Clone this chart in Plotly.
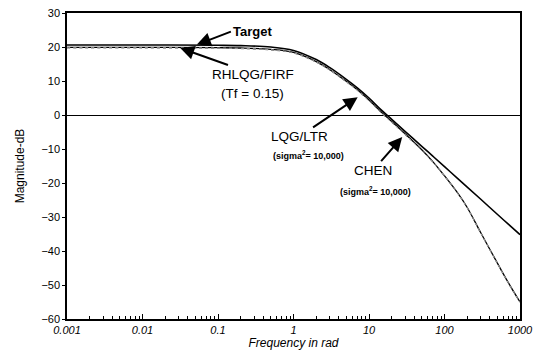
import plotly.graph_objects as go

# Frequencies (rad) at which the curves were read
freq = [0.001, 0.01, 0.1, 0.2, 0.5, 1, 2, 3, 5, 7, 10, 15, 20, 30, 50, 70, 100, 150, 200, 300, 500, 700, 1000]

# Magnitude in dB
target = [20.6, 20.6, 20.5, 20.4, 20.0, 19.0, 16.3, 14.0, 10.5, 8.0, 5.0, 1.2, -1.3, -4.8, -9.2, -12.1, -15.2, -18.7, -21.2, -24.7, -29.2, -32.1, -35.2]
rhlqg = [19.9, 19.9, 19.8, 19.7, 19.3, 18.4, 15.7, 13.4, 9.9, 7.4, 4.4, 0.6, -1.9, -5.5, -10.2, -13.7, -17.9, -23.0, -27.2, -34.5, -43.5, -49.3, -55.0]
lqg_ltr = [19.7, 19.7, 19.6, 19.5, 19.1, 18.2, 15.5, 13.2, 9.7, 7.2, 4.1, 0.3, -2.2, -5.8, -10.5, -13.9, -18.0, -23.1, -27.3, -34.6, -43.6, -49.4, -55.1]
chen = [19.8, 19.8, 19.7, 19.6, 19.2, 18.3, 15.6, 13.3, 9.8, 7.3, 4.2, 0.4, -2.1, -5.7, -10.4, -13.8, -18.0, -23.1, -27.3, -34.6, -43.6, -49.4, -55.1]

xtick_vals = [0.001, 0.01, 0.1, 1, 10, 100, 1000]
xtick_text = ["0.001", "0.01", "0.1", "1", "10", "100", "1000"]
ytick_vals = [30, 20, 10, 0, -10, -20, -30, -40, -50, -60]

FONT = "Liberation Sans, Arial, sans-serif"

fig = go.Figure()
fig.add_trace(go.Scatter(x=freq, y=rhlqg, mode="lines", name="RHLQG/FIRF",
                         line=dict(color="black", width=1.3, shape="spline")))
fig.add_trace(go.Scatter(x=freq, y=lqg_ltr, mode="lines", name="LQG/LTR",
                         line=dict(color="#777777", width=1, dash="dot", shape="spline")))
fig.add_trace(go.Scatter(x=freq, y=chen, mode="lines", name="CHEN",
                         line=dict(color="#999999", width=1, dash="dot", shape="spline")))
fig.add_trace(go.Scatter(x=freq, y=target, mode="lines", name="Target",
                         line=dict(color="black", width=1.6, shape="spline")))

ann_font = dict(family=FONT, size=13.5, color="black")
bold_font = dict(family=FONT, size=13, color="black", weight="bold")
small_font = dict(family=FONT, size=9, color="black", weight="bold")
arrow = dict(showarrow=True, arrowhead=2, arrowsize=1.4, arrowwidth=2, arrowcolor="black")

annotations = [
    dict(x=-1.28, y=20.7, xref="x", yref="y", text="Target",
         ax=34, ay=-13, xanchor="left", font=bold_font, **arrow),
    dict(x=-1.5, y=19.7, xref="x", yref="y", text="RHLQG/FIRF",
         ax=73, ay=26, font=ann_font, **arrow),
    dict(x=-0.54, y=6.3, xref="x", yref="y", text="(Tf = 0.15)", showarrow=False,
         font=ann_font),
    dict(x=0.85, y=5.2, xref="x", yref="y", text="LQG/LTR",
         ax=-58, ay=39, font=ann_font, **arrow),
    dict(x=0.2, y=-11.7, xref="x", yref="y", text="(sigma<sup>2</sup>= 10,000)", showarrow=False,
         font=small_font),
    dict(x=1.44, y=-6.5, xref="x", yref="y", text="CHEN",
         ax=-29, ay=33, font=ann_font, **arrow),
    dict(x=1.08, y=-22.3, xref="x", yref="y", text="(sigma<sup>2</sup>= 10,000)", showarrow=False,
         font=small_font),
]

# The page adds an 8px body margin, so the figure is drawn 8px smaller and
# the margins are reduced accordingly to keep the plot box in place.
fig.update_layout(
    width=535, height=351,
    margin=dict(l=59, r=23, t=5, b=40),
    paper_bgcolor="white", plot_bgcolor="white",
    showlegend=False,
    font=dict(family=FONT, size=11, color="black"),
    annotations=annotations,
)
fig.update_xaxes(
    type="log", range=[-3, 3], automargin=False,
    tickvals=xtick_vals, ticktext=xtick_text, ticklabeloverflow="allow",
    tickfont=dict(family=FONT, size=11, style="italic"),
    ticks="inside", ticklen=5, tickcolor="black",
    minor=dict(ticks="inside", ticklen=3, dtick="D1", tickcolor="black", showgrid=False),
    showline=True, linecolor="black", linewidth=1.5, mirror=True,
    showgrid=False, zeroline=False,
    title=dict(text="Frequency in rad", font=dict(family=FONT, size=12, style="italic"), standoff=3),
)
fig.update_yaxes(
    range=[-60, 30], tickvals=ytick_vals, automargin=False, ticklabeloverflow="allow",
    ticks="outside", ticklen=3, tickcolor="black",
    tickfont=dict(family=FONT, size=11),
    showline=True, linecolor="black", linewidth=1.5, mirror=True,
    showgrid=False, zeroline=True, zerolinecolor="black", zerolinewidth=1,
    title=dict(text="Magnitude-dB", font=dict(family=FONT, size=12), standoff=14),
)

fig.write_html("out.html")
